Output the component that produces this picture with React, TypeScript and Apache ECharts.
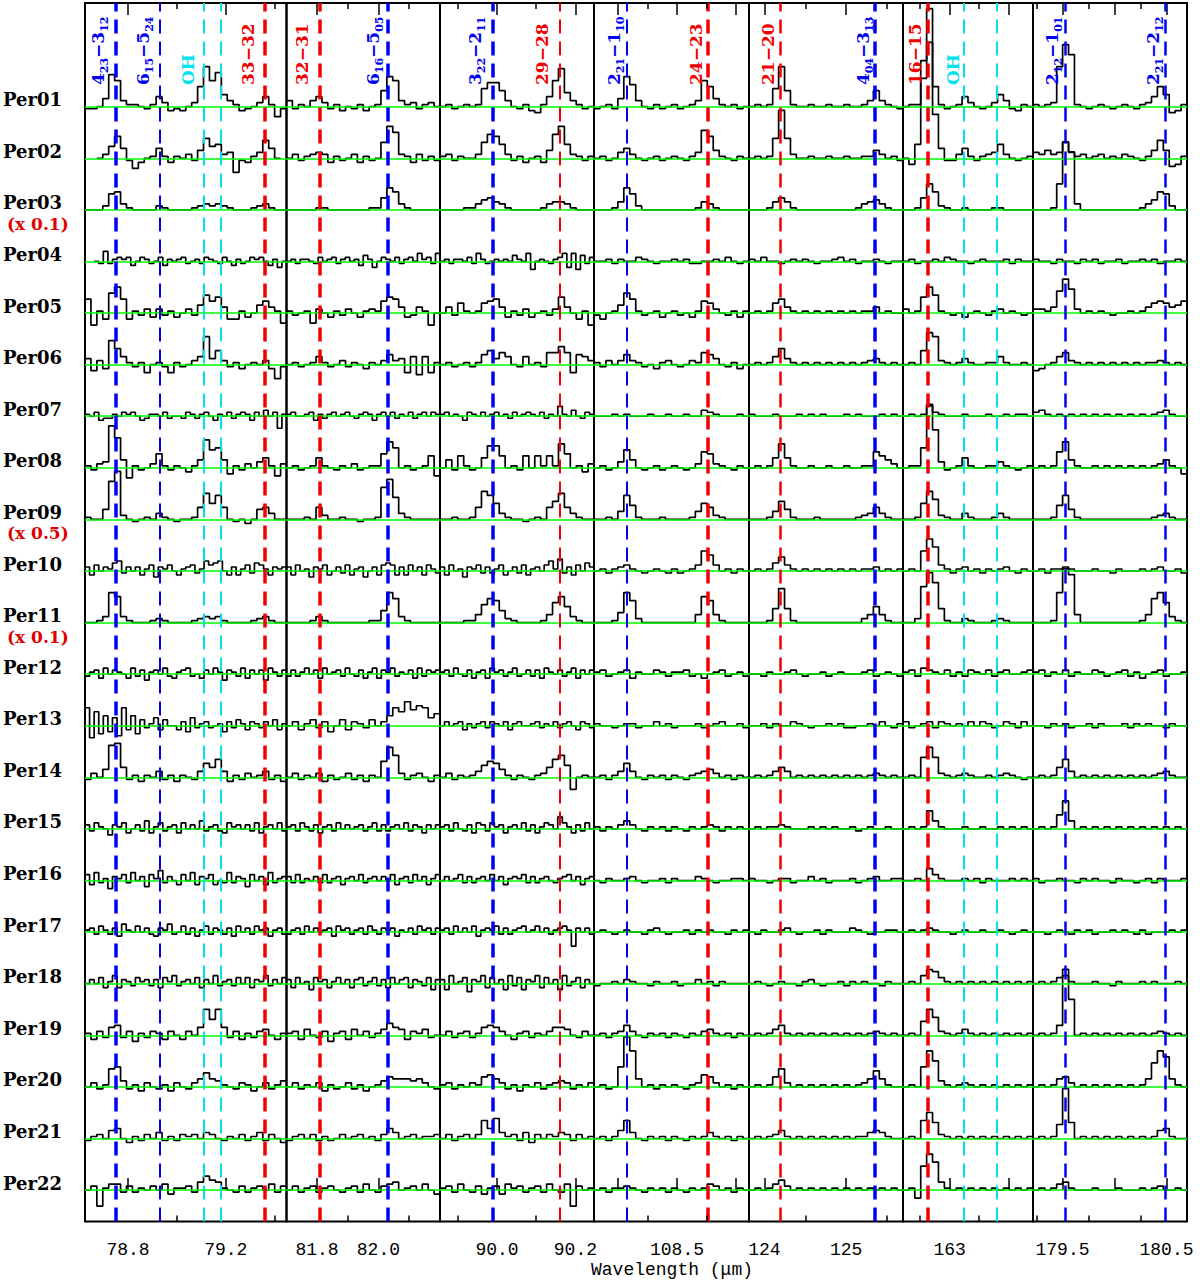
import React, { useEffect, useRef } from "react";
import * as echarts from "echarts";

// ---------- rows (objects) ----------
const OBJECTS = [
  "Per01", "Per02", "Per03", "Per04", "Per05", "Per06", "Per07", "Per08", "Per09", "Per10", "Per11",
  "Per12", "Per13", "Per14", "Per15", "Per16", "Per17", "Per18", "Per19", "Per20", "Per21", "Per22",
];
const SCALE_NOTES = [
  { row: 2, text: "(x 0.1)" },
  { row: 8, text: "(x 0.5)" },
  { row: 10, text: "(x 0.1)" },
];

// ---------- wavelength windows (micron) ----------
const PANEL_MIN = [78.624, 81.7007, 89.8546, 107.7966, 123.812, 162.604, 179.2163];
const PANEL_MAX = [79.4483, 82.2007, 90.2474, 109.11, 125.694, 163.706, 180.697];
const MAJOR_TICKS = [[78.8, 79.2], [81.8, 82.0], [90.0, 90.2], [108.0, 108.5, 109.0], [124, 125], [163.0, 163.5], [179.5, 180.0, 180.5]];
const MINOR_TICKS = [[79.0, 79.4], [81.9, 82.1], [89.9, 90.1], [108.25, 108.75], [124.5, 125.5], [162.75, 163.25], [179.25, 179.75, 180.25]];
const TICK_LABELS = [[78.8, 79.2], [81.8, 82.0], [90.0, 90.2], [108.5], [124, 125], [163], [179.5, 180.5]];
const LABEL_DECIMALS = [1, 1, 1, 1, 0, 0, 1];

// ---------- line identifications ----------
const LINE_WL = [
  [78.747, 78.93, 79.115, 79.18, 79.36],
  [81.806, 82.031],
  [89.988, 90.163],
  [108.073, 108.763],
  [124.193, 125.354],
  [162.812, 163.12, 163.4],
  [179.527, 180.488],
];
const LINE_KIND = [
  ["h2o", "h2o", "oh", "oh", "co"],
  ["co", "h2o"],
  ["h2o", "co"],
  ["h2o", "co"],
  ["co", "h2o"],
  ["co", "oh", "oh"],
  ["h2o", "h2o"],
];
const LINE_WIDTH = [[3.5, 2, 2, 2, 3.5], [3.5, 3.5], [3.5, 2], [2, 3.5], [2.5, 3.5], [3.5, 2, 2], [2.5, 2.5]];
const LINE_LABELS = [
  ["{m|4}{s|23}{m|−3}{s|12}", "{m|6}{s|15}{m|−5}{s|24}", "{p|OH}", "", "{p|33−32}"],
  ["{p|32−31}", "{m|6}{s|16}{m|−5}{s|05}"],
  ["{m|3}{s|22}{m|−2}{s|11}", "{p|29−28}"],
  ["{m|2}{s|21}{m|−1}{s|10}", "{p|24−23}"],
  ["{p|21−20}", "{m|4}{s|04}{m|−3}{s|13}"],
  ["{p|16−15}", "{p|OH}", ""],
  ["{m|2}{s|12}{m|−1}{s|01}", "{m|2}{s|21}{m|−2}{s|12}"],
];
const LABEL_DX = [[-5, -5, -8, 0, -8], [-8, -3], [-5, -10], [-1, -3], [-3, 0], [-4, -2, 0], [-1, 0]];
const KIND_COLOR: Record<string, string> = { h2o: "#0000f0", oh: "#00e2ee", co: "#f00000" };

// ---------- spectra: one char per bin, flux in steps of 2 display units ('8' = continuum) ----------
const P1_FLUX = [
  "778co lb998 79da6 768ai slpeb 9678a d937",
  "..8ae jd736 89d96 98a7c iefab 1769b hd8.",
  "888ag hb988 88a98 8889a baba9 8889a b988",
  "..87d 79a9a 68a97 8a698 9a789 7a987 a8697 8a9a8 6958",
  "f295i lf597 a6a79 68a7c hegb5 5968c eb93",
  "b5a6k gc979 48974 978ac mbfa7 96898 a617",
  "98a67 798a9 a8679 98a78 87a97 9a869 8a79a 96a8b 8a29",
  "97abt nc397 8af97 9869c mhic5 97a8b d94a",
  "988dr wa878 98b98 7889e lgke8 7868d eb88",
  "a6b8a 9cd7a 8a69b 5a9b8 69ab7 9dbcd 86a69 b7cb9 6a9a",
  "889bn lb988 89a98 8889a bab98 8889a b988",
  "79a6b 8a986 b7a59 a8b76 9ab78 6a8b9 5a97b 6a8a5 b97a",
  "h2f4d 5c3h6 d4b79 c6b88 6a5c7 9a789 5a7b9 6a97a 8b69",
  "7a8co pd796 98b79 6987b fdhb6 97a89 b796",
  "a7b98 5a9b6 8a7c6 9b79a 6b8a8 c79a7 6b9a8 a7b69 a8b7",
  "b6c79 4a9b7 c8a5b 9d7a8 6b8c6 a9b68 7c7a9 5b8a6 c79a",
  "9a7b9 7a6c9 8b8a7 6a9c7 8b7a6 9b7a9 7a6b8 a7b9a 69a7",
  "8a8b6 9c6a9 7b9a7 a6b9c 79a8b 6a8c7 9a7b8 b6a9c 7a8b",
  "96a7c d7a59 7a96a 86a8c lglc7 a697a b869",
  "8a79h ib796 a8796 a87ac fcb98 7a968 a79b",
  "79a8c d8697 a8b79 7a9a8 ba879 8a79b 7a86",
  "8a09b b7a79 8a8b6 99a7c fdc98 7a79a 8b7a",
];
const P2_FLUX = [
  "b798b da796 87968 9gnlb 9a79a 8",
  "8a79a ba697 8a697 8gola 96a79 7",
  "88888 99888 88889 9ejhb 98888 8",
  "89799 87a89 a79a8 96b95 8a98a 79a8c 9a7c",
  "97893 a8697 a869a 9egfb 67b92 8",
  "89789 c978a 79869 8adab 4c3c4 9",
  "9a889 a6979 a89a8 79a96 9a8a7 98a79 a8a9",
  "89789 d9879 8a789 9fli8 9789e 4",
  "88898 ea889 88788 9osjb 98888 8",
  "a6b89 5a9b6 8a7b6 9a58a 6bcb6 a6b8a 6b97",
  "88889 b9888 88889 9enkb 98888 8",
  "7a79b 8a6b8 9a7b8 7a69b 6a9b7 98a6b 7a9a",
  "8a69b 7a58b 6a97b 8adhf kgihc e",
  "8a798 a6978 a7969 8gnja 79a86 9",
  "9a7b9 7a69a 7b8a8 9a79b 7a79a 8b7a9 6a8a",
  "a7b79 8a7b7 9a69a 8b79a 8a8b6 9a7b8 a69b",
  "79a7b 8a89a 6b9a7 9a7b9 7a9a6 98a7b 9a7a",
  "a6b89 5b9a6 9b8a6 ab79b 7a6b8 ab6a9 7b5a",
  "9a6b8 7a59a 6b8a7 9becb 6a9b7 8",
  "8a798 a6978 a7968 9bdcc cbca8 7",
  "79a8a 7978a 89a89 7adb8 9a899 a",
  "8a79a 79a87 9a7b8 7abc8 9a8b8 6",
];
const P3_FLUX = [
  "89789 89hkk gb879 659dl rfb97 8",
  "9a798 8agkj fa796 896ck ofa97 9",
  "88889 9bdec b9888 889bc cb988 8",
  "89799 8a7c9 78989 8b98c 48987 9ac5c 4b7a",
  "8b7d9 89def b697a 6897a gb859 2",
  "89789 79dfb ec87c 897ee he4dc a",
  "9a898 6a98a 89a89 7a89a 98a79 8d98b 87a9",
  "8c7e9 78djj e897e 8e9e9 kf896 a",
  "88988 9emkg b9887 898eh leb98 8",
  "a6b89 5a9b7 a79b6 8a7b6 9a8bd 9e7a6 b8ca",
  "88889 9chkj ea988 889ci lgb98 8",
  "9a7b8 7a69a 6b9a7 9b78a 7a6b9 8a79b 6a8a",
  "8a89a 6979a 7a98a 69a88 9a798 a79a8 6a97",
  "8a798 9begf c9798 79adh je289 8",
  "9a7b8 7a6ba 7b9a6 9a8b7 a69ba 8eb96 a7b8",
  "8a89b 7a79a 8b8a6 9a9b7 a79a8 79ab8 a69a",
  "9a7b8 a8b69 a9b7a 79ab8 9b8a7 9ab91 a8a7",
  "a5c89 b4a9c 6b8a5 c7b5a 9c6b8 a5c79 b6a8",
  "8a79a 79cdc a869a 798ac cb87a 8",
  "9a798 a9dec a7969 8a79a ba798 a",
  "8a79a 8ahdi b9a7b 6a8a9 ba7a8 9",
  "9a7b8 7a69a 6b9a7 9a7b8 7b0a8 9",
];
const P4_FLUX = [
  "7897c njb87 97897 89bli c9897 8",
  "8978b da878 97898 79bmj c9879 8",
  "8889c jga88 88888 889cb 98888 8",
  "88979 88a98 78898 97788 98a87 8",
  "7589c if978 96897 869ed a8796 9",
  "97a8a da978 69a87 8a9ed b8796 8",
  "88898 98889 88988 988ba 98889 8",
  "8978b hc878 97898 78agf a9879 8",
  "8898c kf988 89888 89cge a9888 8",
  "8979a b9878 98797 89big b8979 8",
  "8889d nja88 88888 88clj c9888 8",
  "9a789 a6988 a9799 a7868 9a789 7",
  "98878 99788 a8978 88978 9a889 7",
  "8979b fb879 89798 79abc a8979 8",
  "9798a ca879 89798 7989a 97989 8",
  "87988 9a878 89798 88a98 78899 8",
  "89878 98879 a8788 97989 88798 9",
  "78898 a9887 98897 88a89 79888 8",
  "8979a da879 89798 798ab 98979 8",
  "8978i xqc89 79898 79aed a8979 8",
  "8979c hb879 89798 7989b 98979 8",
  "89799 a9879 89798 7989b a8979 8",
];
const P5_FLUX = [
  "8989h sg988 98898 89889 bgb98 7",
  "8989i wia88 98898 89889 9ca89 7",
  "8889c ec988 88888 8889b cdb98 8",
  "98a88 78989 87889 a8978 89878 8",
  "8989d fb989 89898 98989 9b898 8",
  "8989c gb989 89898 98989 ab989 8",
  "98889 88898 98988 89898 88989 8",
  "8989d kd988 98898 89889 9geca 8",
  "8889c hd988 89888 8889a beb98 8",
  "8989c fb989 89898 98989 9a898 9",
  "8889f pf988 88888 8888a cgc98 8",
  "88798 89a87 88978 98889 a7898 7",
  "88979 88a98 78898 97788 98a87 9",
  "8989b db898 98989 89898 9a989 8",
  "89899 a9888 98989 88978 98898 8",
  "98878 99788 a8978 88978 9a889 9",
  "87988 9a878 89798 88a98 78899 8",
  "89878 98879 a8788 97989 88798 8",
  "8989b d9898 98989 89898 9a989 8",
  "8989d ha898 98989 8989a cgc98 8",
  "8989a c9898 98989 89899 bcb98 8",
  "8989b da898 98989 89898 98989 8",
];
const P6_FLUX = [
  "899vV i9789 da878 aeb76 98",
  "85fM& ud77a d979a bfa87 89",
  "889el ha988 98888 99888 88",
  "89788 98a98 87898 88979 88",
  "a89gl h9878 68987 9a898 78",
  "898fo ma989 b9889 9c988 98",
  "8989e a9888 98889 88989 98",
  "899iD rb789 d9889 9b987 89",
  "889gm ia988 b9888 9b988 88",
  "898io kb979 a8979 89a87 98",
  "88aqx sf988 a9888 9a988 88",
  "9a7ba 98a79 7a98a 79a88 9a",
  "a789a 7a989 8a8a9 78a97 a8",
  "898in ia989 a9889 89a98 78",
  "8989h c9888 98898 89898 98",
  "8898e b9888 98979 88898 98",
  "8989a 98878 98898 89878 98",
  "898cf eb989 89898 98989 89",
  "898fl ha989 b9898 98989 89",
  "898iq lb989 a9898 98989 89",
  "898hl ga989 89898 98989 89",
  "894kq mc989 89898 98989 89",
];
const P7_FLUX = [
  "989as Dy987 89878 9879a die56 9",
  "bacab gb9a8 9a898 a9879 chc45 9",
  "8889l GBb88 88888 8889b dhga8 8",
  "98879 88798 97889 78898 97889 8",
  "aa9bj pka89 89878 8989b dedbc e",
  "5689c ea989 89898 98989 9a989 8",
  "ab989 89898 98989 89898 9ab98 8",
  "8989g lc988 98989 89898 9ac98 5",
  "8889f kd988 88888 88888 9ab98 8",
  "89799 a9888 98879 88898 9a889 7",
  "8889n zwc88 88888 8889c knib9 8",
  "9a798 a7988 a9789 a7968 9a788 9",
  "88798 97889 79888 97989 88798 8",
  "8989d hb898 98989 89898 9ab98 8",
  "8989f mc898 98989 89898 98989 8",
  "97889 88798 98879 88789 79888 9",
  "88789 87989 78898 98797 88898 9",
  "8989b c9888 98879 88898 98889 8",
  "8989d Fq898 98989 89898 9a989 8",
  "8989c da898 98989 8989c kqnc9 8",
  "8989f xg898 98989 89898 9cd98 8",
  "8989b c9888 98889 88898 9a889 8",
];
const PANEL_FLUX = [P1_FLUX, P2_FLUX, P3_FLUX, P4_FLUX, P5_FLUX, P6_FLUX, P7_FLUX];

// ---------- decoding / layout constants ----------
const ALPH = "0123456789abcdefghijklmnopqrstuvwxyzABCDEFGHIJKLMNOPQRSTUVWXYZ@#$%&*";
const ZERO_INDEX = 8;
const STEP = 2;
const ROW_SPACING = 51.59; // flux units per row offset
const Y_MAX = 23.01;
const Y_MIN = -0.609;
const EDGES = [85, 286.5, 440, 594, 749, 903, 1033, 1187];
const FRAME_TOP = 3;
const FRAME_H = 1218.5;

const SERIF = "'DejaVu Serif', serif";
const MONO = "'Liberation Mono', 'DejaVu Sans Mono', monospace";

function decode(s: string): (number | null)[] {
  return s
    .replace(/\s/g, "")
    .split("")
    .map((c) => (c === "." ? null : ((ALPH.indexOf(c) - ZERO_INDEX) * STEP) / ROW_SPACING));
}

function richFor(color: string) {
  return {
    m: { fontFamily: SERIF, fontWeight: "bold", fontSize: 17, lineHeight: 24, fill: color },
    s: { fontFamily: SERIF, fontWeight: "bold", fontSize: 11, lineHeight: 12, verticalAlign: "bottom", fill: color },
    p: { fontFamily: SERIF, fontWeight: "bold", fontSize: 17, lineHeight: 18, fill: color },
  };
}

export default function App() {
  const ref = useRef<HTMLDivElement>(null);

  useEffect(() => {
    if (!ref.current) return;
    const chart = echarts.init(ref.current, null, { renderer: "svg" });
    const grid: any[] = [];
    const xAxis: any[] = [];
    const yAxis: any[] = [];
    const series: any[] = [];
    const tickLen = 6 / ROW_SPACING;

    for (let p = 0; p < 7; p++) {
      grid.push({
        left: EDGES[p],
        top: FRAME_TOP,
        width: EDGES[p + 1] - EDGES[p],
        height: FRAME_H,
        show: true,
        borderColor: "#000",
        borderWidth: 2,
        backgroundColor: "transparent",
      });
      const common = {
        gridIndex: p,
        type: "value",
        min: PANEL_MIN[p],
        max: PANEL_MAX[p],
        axisLine: { show: false },
        splitLine: { show: false },
      };
      const tick = {
        show: true,
        inside: true,
        length: 12,
        customValues: MAJOR_TICKS[p],
        lineStyle: { color: "#000", width: 1.5 },
      };
      xAxis.push({
        ...common,
        position: "bottom",
        axisTick: tick,
        axisLabel: {
          show: true,
          customValues: TICK_LABELS[p],
          formatter: (v: number) => v.toFixed(LABEL_DECIMALS[p]),
          margin: 19,
          color: "#000",
          fontFamily: MONO,
          fontSize: 18,
        },
      });
      xAxis.push({ ...common, position: "top", axisTick: tick, axisLabel: { show: false } });
      yAxis.push({ gridIndex: p, type: "value", min: Y_MIN, max: Y_MAX, show: false });

      // green continuum levels
      series.push({
        type: "line",
        xAxisIndex: 2 * p,
        yAxisIndex: p,
        data: [],
        z: 1,
        silent: true,
        markLine: {
          silent: true,
          symbol: ["none", "none"],
          label: { show: false },
          emphasis: { disabled: true },
          lineStyle: { color: "#00ff00", width: 1.5, type: "solid" },
          data: OBJECTS.map((_, r) => ({ yAxis: 21 - r })),
        },
      });
      // dashed line identifications
      series.push({
        type: "line",
        xAxisIndex: 2 * p,
        yAxisIndex: p,
        data: [],
        z: 2,
        silent: true,
        markLine: {
          silent: true,
          symbol: ["none", "none"],
          label: { show: false },
          emphasis: { disabled: true },
          data: LINE_WL[p].map((wl, k) => ({
            xAxis: wl,
            lineStyle: { color: KIND_COLOR[LINE_KIND[p][k]], width: LINE_WIDTH[p][k], type: [14, 8] },
          })),
        },
      });
      // minor ticks (top and bottom)
      series.push({
        type: "line",
        xAxisIndex: 2 * p,
        yAxisIndex: p,
        data: [],
        z: 4,
        silent: true,
        markLine: {
          silent: true,
          symbol: ["none", "none"],
          label: { show: false },
          emphasis: { disabled: true },
          lineStyle: { color: "#000", width: 1.5, type: "solid" },
          data: MINOR_TICKS[p].flatMap((v) => [
            [{ coord: [v, Y_MIN] }, { coord: [v, Y_MIN + tickLen] }],
            [{ coord: [v, Y_MAX] }, { coord: [v, Y_MAX - tickLen] }],
          ]),
        },
      });
      // spectra
      PANEL_FLUX[p].forEach((str, r) => {
        const vals = decode(str);
        const n = vals.length;
        const w = (PANEL_MAX[p] - PANEL_MIN[p]) / n;
        const base = 21 - r;
        const pts: number[][] = [];
        vals.forEach((v, i) => {
          if (v === null) return;
          pts.push([PANEL_MIN[p] + i * w, base + v]);
          pts.push([PANEL_MIN[p] + (i + 1) * w, base + v]);
        });
        series.push({
          type: "line",
          name: OBJECTS[r],
          xAxisIndex: 2 * p,
          yAxisIndex: p,
          data: pts,
          showSymbol: false,
          symbol: "none",
          z: 3,
          silent: true,
          lineStyle: { color: "#000", width: 1.7 },
        });
      });
    }

    chart.setOption({
      animation: false,
      backgroundColor: "#fff",
      textStyle: { fontFamily: SERIF },
      grid,
      xAxis,
      yAxis,
      series,
    });

    const graphic: any[] = [];
    OBJECTS.forEach((name, r) => {
      const y = chart.convertToPixel({ gridIndex: 0 }, [PANEL_MIN[0], 21 - r])[1];
      graphic.push({
        type: "text",
        x: 3,
        y: y - 7,
        silent: true,
        style: { text: name, fill: "#000", font: `bold 18px ${SERIF}`, align: "left", verticalAlign: "middle" },
      });
    });
    SCALE_NOTES.forEach((note) => {
      const y = chart.convertToPixel({ gridIndex: 0 }, [PANEL_MIN[0], 21 - note.row])[1];
      graphic.push({
        type: "text",
        x: 7,
        y: y + 14,
        silent: true,
        style: { text: note.text, fill: "#e00000", font: `bold 17px ${SERIF}`, align: "left", verticalAlign: "middle" },
      });
    });
    LINE_WL.forEach((arr, p) => {
      arr.forEach((wl, k) => {
        const text = LINE_LABELS[p][k];
        if (!text) return;
        const color = KIND_COLOR[LINE_KIND[p][k]];
        const x = chart.convertToPixel({ gridIndex: p }, [wl, 0])[0];
        graphic.push({
          type: "text",
          x: x + LABEL_DX[p][k],
          y: 85,
          rotation: Math.PI / 2,
          silent: true,
          z: 10,
          style: { text, rich: richFor(color), fill: color, align: "left", verticalAlign: "bottom" },
        });
      });
    });
    graphic.push({
      type: "text",
      x: 672,
      y: 1270,
      silent: true,
      style: { text: "Wavelength (μm)", fill: "#000", font: `18px ${MONO}`, align: "center", verticalAlign: "middle" },
    });
    chart.setOption({ graphic });

    return () => chart.dispose();
  }, []);

  return (
    <div
      ref={ref}
      style={{ position: "absolute", left: 0, top: 0, width: 1200, height: 1283, background: "#fff" }}
    />
  );
}
